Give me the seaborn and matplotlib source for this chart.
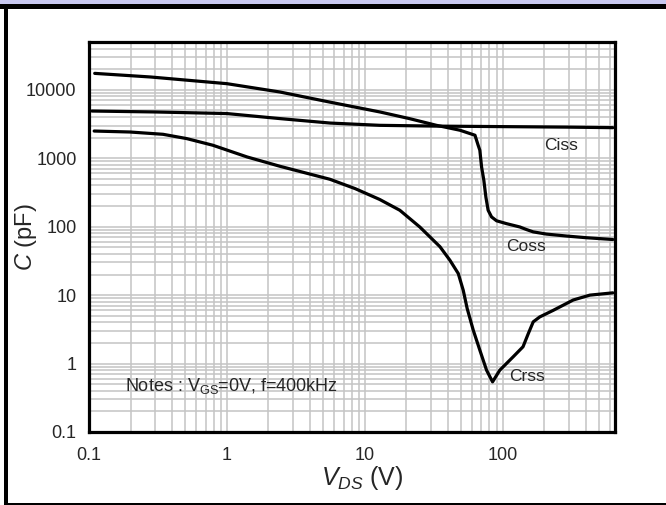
import numpy as np
import pandas as pd
import matplotlib
matplotlib.use("Agg")
import matplotlib.pyplot as plt
from matplotlib.ticker import LogLocator, FixedLocator, FixedFormatter, NullFormatter
from matplotlib.patches import Rectangle
import seaborn as sns

# values (V in volts, C in pF)
vds_ciss = [0.105, 0.3, 1, 2.42, 5.6, 12.8, 33, 100, 300, 627]
c_ciss = [4900, 4750, 4500, 3800, 3270, 3030, 2950, 2900, 2850, 2800]

vds_coss = [0.11, 0.28, 1, 2.42, 5.6, 12.9, 21, 33, 48.8, 62.8, 66.2, 68.1, 70.1,
            72.8, 75.3, 78.2, 82.8, 90, 106, 133, 148, 166, 207, 290, 404, 627]
c_coss = [17400, 15400, 12300, 9300, 6600, 4740, 3800, 3030, 2570, 2170, 1550, 1310, 747,
          477, 272, 174, 139, 122, 111, 99, 91, 84, 78, 73, 69, 65]

vds_crss = [0.109, 0.198, 0.344, 0.51, 0.79, 1.4, 2.42, 5.58, 8.5, 12.8, 17.9, 25, 35, 41.3,
            47.5, 51.6, 55.1, 61, 68.1, 76.2, 84.2, 95, 119, 140, 153, 166, 185, 232, 324, 427, 627]
c_crss = [2500, 2420, 2240, 1940, 1550, 1045, 764, 493, 360, 250, 174, 99, 51, 32.4,
          20.7, 11.8, 6.4, 3.08, 1.57, 0.80, 0.54, 0.80, 1.26, 1.76, 2.75, 4.07, 4.8, 6.0, 8.5, 10, 10.8]

x_ticks = [0.1, 1, 10, 100]
x_labels = ["0.1", "1", "10", "100"]
y_ticks = [0.1, 1, 10, 100, 1000, 10000]
y_labels = ["0.1", "1", "10", "100", "1000", "10000"]

df = pd.concat([
    pd.DataFrame({"V": vds_ciss, "C": c_ciss, "curve": "Ciss"}),
    pd.DataFrame({"V": vds_coss, "C": c_coss, "curve": "Coss"}),
    pd.DataFrame({"V": vds_crss, "C": c_crss, "curve": "Crss"}),
])

sns.set_style("white")
plt.rcParams["font.family"] = ["Liberation Sans", "DejaVu Sans"]
plt.rcParams["mathtext.fontset"] = "custom"
plt.rcParams["mathtext.rm"] = "Liberation Sans"
plt.rcParams["mathtext.it"] = "Liberation Sans:italic"

fig = plt.figure(figsize=(6.66, 5.05), dpi=100)
W, H = 666, 505

# page decoration around the chart
fig.add_artist(Rectangle((0, 1 - 4 / H), 1, 4 / H, transform=fig.transFigure,
                         facecolor="#c8c8f0", edgecolor="none"))
fig.add_artist(Rectangle((0, 1 - 8.5 / H), 1, 4.5 / H, transform=fig.transFigure,
                         facecolor="black", edgecolor="none"))
fig.add_artist(Rectangle((4 / W, 0), 3.5 / W, 1 - 4 / H, transform=fig.transFigure,
                         facecolor="black", edgecolor="none"))
fig.add_artist(Rectangle((4 / W, 0), 1, 2 / H, transform=fig.transFigure,
                         facecolor="black", edgecolor="none"))

ax = fig.add_axes([89 / W, 1 - 432 / H, (615 - 89) / W, (432 - 42) / H])

sns.lineplot(data=df, x="V", y="C", units="curve", estimator=None, sort=False,
             color="black", lw=2.3, ax=ax, legend=False)

ax.set_xscale("log")
ax.set_yscale("log")
ax.set_xlim(0.1, 650)
ax.set_ylim(0.1, 50000)

ax.xaxis.set_major_locator(FixedLocator(x_ticks))
ax.xaxis.set_major_formatter(FixedFormatter(x_labels))
ax.yaxis.set_major_locator(FixedLocator(y_ticks))
ax.yaxis.set_major_formatter(FixedFormatter(y_labels))
ax.xaxis.set_minor_locator(LogLocator(base=10, subs=np.arange(2, 10), numticks=50))
ax.yaxis.set_minor_locator(LogLocator(base=10, subs=np.arange(2, 10), numticks=50))
ax.xaxis.set_minor_formatter(NullFormatter())
ax.yaxis.set_minor_formatter(NullFormatter())

ax.grid(True, which="both", color="#c4c4c4", lw=1.1)
ax.set_axisbelow(True)
ax.tick_params(which="both", length=0, labelsize=13)
ax.tick_params(axis="x", pad=11)
ax.tick_params(axis="y", pad=9)
for s in ax.spines.values():
    s.set_visible(True)
    s.set_color("black")
    s.set_linewidth(2.3)

ax.set_xlabel(r"$V_{DS}$ (V)", fontsize=18)
ax.set_ylabel(r"$C$ (pF)", fontsize=17)
ax.xaxis.set_label_coords((362 - 89) / 526, -(464 - 432) / 390)
ax.yaxis.set_label_coords(-(89 - 39) / 526, 0.5)

# curve names and test conditions
ax.text(263, 1550, "Ciss", fontsize=12.5, ha="center", va="center")
ax.text(147, 52, "Coss", fontsize=12.5, ha="center", va="center")
ax.text(149, 0.64, "Crss", fontsize=12.5, ha="center", va="center")
ax.text(0.182, 0.47, r"Notes : V$_{\mathrm{GS}}$=0V, f=400kHz", fontsize=13,
        ha="left", va="center")

fig.savefig("out.png", dpi=100)
